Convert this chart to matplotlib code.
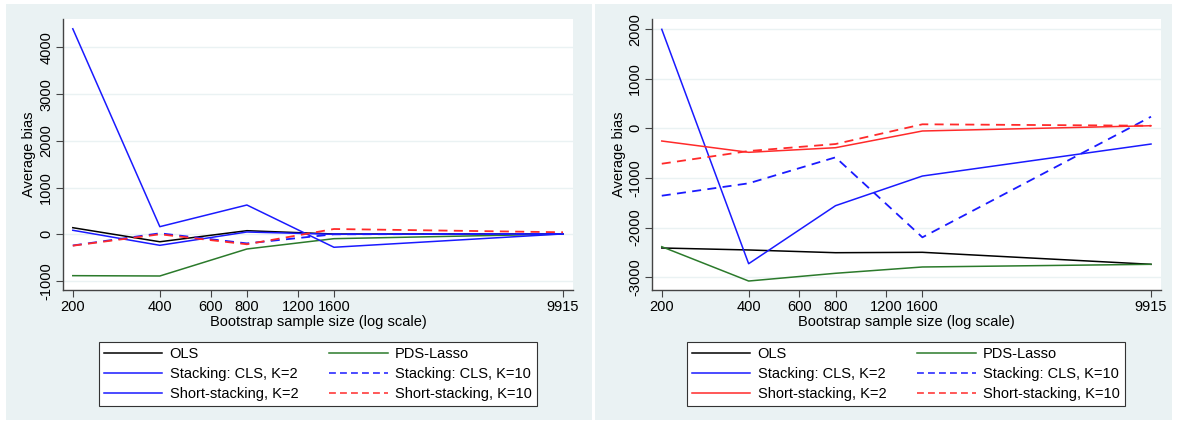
import matplotlib
matplotlib.use("Agg")
import matplotlib.pyplot as plt
from matplotlib.patches import Rectangle
from matplotlib.lines import Line2D

plt.rcParams['font.family'] = ['Liberation Sans', 'DejaVu Sans']

# bootstrap sample sizes
sizes = [200, 400, 800, 1600, 9915]
tick_vals = [200, 400, 600, 800, 1200, 1600, 9915]
tick_labels = ["200", "400", "600", "800", "1200", "1600", "9915"]

# left panel
left_ols = [141, -160, 77, 6, 8]
left_pds = [-886, -893, -315, -94, 5]
left_cls2 = [4400, 163, 627, -278, 8]
left_cls10 = [-240, 21, -195, 0, 10]
left_short2 = [86, -236, 49, 0, 8]
left_short10 = [-244, 0, -214, 113, 43]

# right panel
right_ols = [-2413, -2453, -2508, -2500, -2742]
right_pds = [-2387, -3079, -2923, -2796, -2742]
right_cls2 = [1996, -2730, -1560, -962, -317]
right_cls10 = [-1359, -1109, -585, -2198, 234]
right_short2 = [-256, -484, -391, -54, 52]
right_short10 = [-714, -458, -317, 81, 52]

labels = ["OLS", "Stacking: CLS, K=2", "Short-stacking, K=2",
          "PDS-Lasso", "Stacking: CLS, K=10", "Short-stacking, K=10"]

BG = "#eaf2f3"
BLUE = "#1a1aff"
GREEN = "#2b7a2b"
RED = "#ff2a2a"
DASH = (5, 3.5)

W, H = 1177, 424
fig = plt.figure(figsize=(W / 100, H / 100), dpi=100)
fig.patch.set_facecolor("white")

# panel backgrounds
fig.patches.append(Rectangle((6 / W, 4 / H), 586 / W, 416 / H, transform=fig.transFigure,
                             facecolor=BG, edgecolor="none", zorder=-10))
fig.patches.append(Rectangle((595 / W, 4 / H), 577 / W, 416 / H, transform=fig.transFigure,
                             facecolor=BG, edgecolor="none", zorder=-10))


def panel(x0, x1, ylim, yticks, series, short2_color, leg_x0, leg_x1):
    ax = fig.add_axes([x0 / W, (H - 290) / H, (x1 - x0) / W, 271 / H])
    ax.set_facecolor("white")
    ax.set_xscale("log")
    ols, pds, cls2, cls10, s2, s10 = series
    ax.plot(sizes, ols, color="black", lw=1.1)
    ax.plot(sizes, pds, color=GREEN, lw=1.1)
    ax.plot(sizes, cls2, color=BLUE, lw=1.1)
    ax.plot(sizes, cls10, color=BLUE, lw=1.3, dashes=DASH)
    ax.plot(sizes, s2, color=short2_color, lw=1.1)
    ax.plot(sizes, s10, color=RED, lw=1.3, dashes=DASH)
    ax.set_xlim(185, 10737)
    ax.set_ylim(*ylim)
    ax.set_xticks(tick_vals)
    ax.set_xticklabels(tick_labels)
    ax.minorticks_off()
    ax.set_yticks(yticks)
    ax.set_yticklabels([str(v) for v in yticks], rotation=90, va="center")
    ax.tick_params(labelsize=10.5, length=5, color="#444444", pad=2)
    ax.grid(axis="y", color=BG, lw=1)
    ax.set_axisbelow(True)
    for s in ["top", "right"]:
        ax.spines[s].set_visible(False)
    for s in ["left", "bottom"]:
        ax.spines[s].set_color("#444444")
        ax.spines[s].set_linewidth(1)
    ax.set_ylabel("Average bias", fontsize=10.5, labelpad=2)
    ax.set_xlabel("Bootstrap sample size (log scale)", fontsize=10.5, labelpad=1)

    handles = [
        Line2D([], [], color="black", lw=1.1),
        Line2D([], [], color=BLUE, lw=1.1),
        Line2D([], [], color=short2_color, lw=1.1),
        Line2D([], [], color=GREEN, lw=1.1),
        Line2D([], [], color=BLUE, lw=1.1, dashes=(4.5, 2.7)),
        Line2D([], [], color=RED, lw=1.1, dashes=(4.5, 2.7)),
    ]
    leg = fig.legend(handles, labels, ncol=2, loc="lower left",
                     bbox_to_anchor=(leg_x0 / W, (H - 406) / H, (leg_x1 - leg_x0) / W, 67 / H),
                     mode="expand", fontsize=10.5, frameon=True, fancybox=False,
                     framealpha=1, handlelength=4.0, handletextpad=0.5,
                     labelspacing=0.42, borderpad=0.35, borderaxespad=0)
    leg.get_frame().set_edgecolor("#333333")
    leg.get_frame().set_linewidth(0.8)
    return ax


panel(63, 573, (-1193, 4610), [-1000, 0, 1000, 2000, 3000, 4000],
      [left_ols, left_pds, left_cls2, left_cls10, left_short2, left_short10],
      BLUE, 99, 537)
panel(652, 1161, (-3260, 2204), [-3000, -2000, -1000, 0, 1000, 2000],
      [right_ols, right_pds, right_cls2, right_cls10, right_short2, right_short10],
      RED, 687, 1125)

fig.savefig("out.png", dpi=100)
